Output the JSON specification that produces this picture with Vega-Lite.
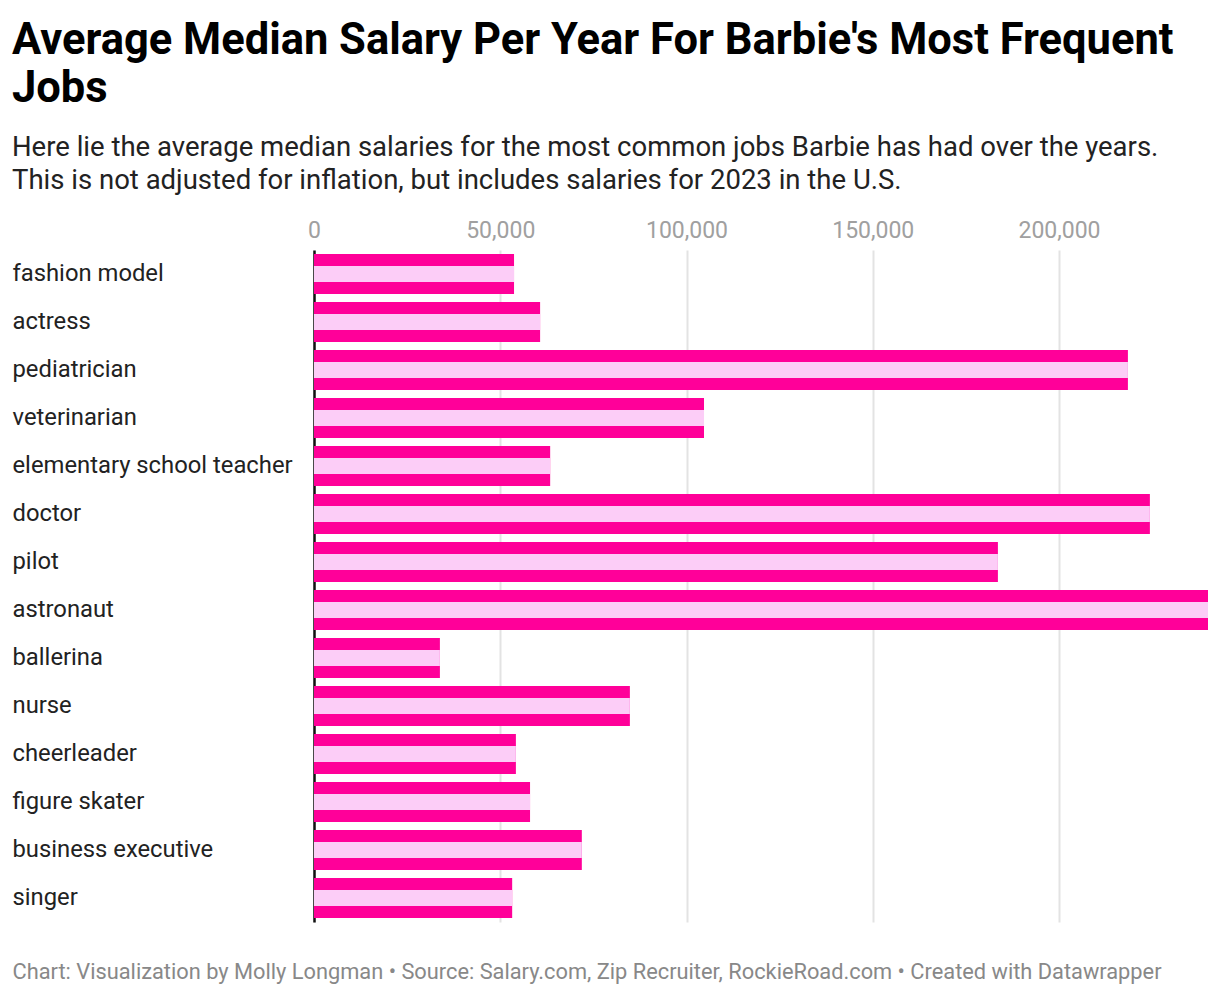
{
  "$schema": "https://vega.github.io/schema/vega-lite/v6.json",
  "autosize": {"type": "none"},
  "width": 894,
  "height": 672,
  "padding": {"left": 314, "top": 250, "right": 12, "bottom": 72},
  "background": "white",
  "config": {
    "font": "Roboto",
    "view": {"stroke": null}
  },
  "title": {
    "text": ["Average Median Salary Per Year For Barbie's Most Frequent", "Jobs"],
    "subtitle": ["Here lie the average median salaries for the most common jobs Barbie has had over the years.", "This is not adjusted for inflation, but includes salaries for 2023 in the U.S."],
    "anchor": "start",
    "frame": "bounds",
    "font": "Roboto",
    "fontSize": 43.5,
    "fontWeight": "bold",
    "color": "#000000",
    "lineHeight": 48,
    "subtitleFont": "Roboto",
    "subtitleFontSize": 27.5,
    "subtitleColor": "#222222",
    "subtitleLineHeight": 33,
    "subtitlePadding": 22,
    "offset": 24
  },
  "data": {
    "values": [
      {"job": "fashion model", "salary": 53700},
      {"job": "actress", "salary": 60700},
      {"job": "pediatrician", "salary": 218500},
      {"job": "veterinarian", "salary": 104700},
      {"job": "elementary school teacher", "salary": 63400},
      {"job": "doctor", "salary": 224400},
      {"job": "pilot", "salary": 183600},
      {"job": "astronaut", "salary": 240000},
      {"job": "ballerina", "salary": 33800},
      {"job": "nurse", "salary": 84800},
      {"job": "cheerleader", "salary": 54200},
      {"job": "figure skater", "salary": 58000},
      {"job": "business executive", "salary": 71900},
      {"job": "singer", "salary": 53200}
    ]
  },
  "encoding": {
    "y": {
      "field": "job",
      "type": "nominal",
      "sort": null,
      "scale": {"paddingInner": 0.16667, "paddingOuter": 0.08333},
      "axis": {
        "title": null,
        "orient": "left",
        "ticks": false,
        "domain": true,
        "domainColor": "#111111",
        "domainWidth": 2.5,
        "labelAlign": "left",
        "labelPadding": 302,
        "labelFont": "Roboto",
        "labelFontSize": 23.8,
        "labelColor": "#222222",
        "labelLimit": 300
      }
    }
  },
  "resolve": {"axis": {"x": "independent"}},
  "layer": [
    {
      "mark": {"type": "bar", "color": "#ff0099"},
      "encoding": {
        "x": {
          "field": "salary",
          "type": "quantitative",
          "scale": {"domain": [0, 240000], "nice": false},
          "axis": {
            "orient": "top",
            "title": null,
            "values": [0, 50000, 100000, 150000, 200000],
            "format": ",d",
            "ticks": false,
            "domain": false,
            "grid": true,
            "gridColor": "#e3e3e3",
            "gridWidth": 2,
            "labelFlush": false,
            "labelFont": "Roboto",
            "labelFontSize": 23,
            "labelColor": "#a0a0a0",
            "labelPadding": 8
          }
        }
      }
    },
    {
      "mark": {"type": "bar", "color": "#fccdf7", "height": {"band": 0.4}},
      "encoding": {
        "x": {
          "field": "salary",
          "type": "quantitative",
          "axis": {
            "orient": "bottom",
            "labels": false,
            "ticks": false,
            "domain": false,
            "grid": false,
            "title": "Chart: Visualization by Molly Longman • Source: Salary.com, Zip Recruiter, RockieRoad.com • Created with Datawrapper",
            "titleFont": "Roboto",
            "titleFontSize": 21.8,
            "titleFontWeight": "normal",
            "titleColor": "#888888",
            "titleAnchor": "start",
            "titleAlign": "left",
            "titleBaseline": "alphabetic",
            "titleX": -302,
            "titleY": 56
          }
        }
      }
    }
  ]
}
